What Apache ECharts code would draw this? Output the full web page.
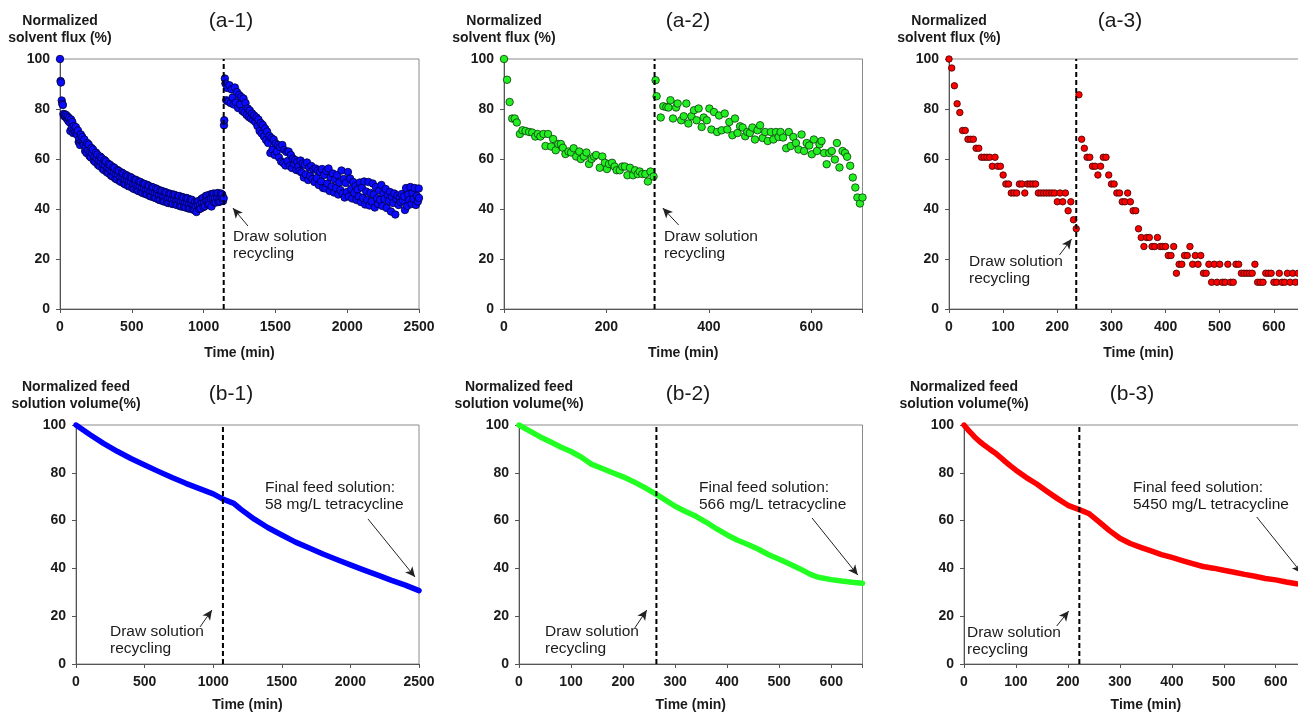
<!DOCTYPE html>
<html><head><meta charset="utf-8">
<script src="https://cdn.jsdelivr.net/npm/echarts@6/dist/echarts.min.js"></script>
<style>html,body{margin:0;padding:0;background:#fff;overflow:hidden;width:1298px;height:714px}#c{width:1340px;height:714px}</style>
</head><body><div id="c"></div>
<script>
// ---------- DATA ----------
const titles = ['(a-1)', '(a-2)', '(a-3)', '(b-1)', '(b-2)', '(b-3)'];
const yNameFlux = 'Normalized\nsolvent flux (%)';
const yNameVol = 'Normalized feed\nsolution volume(%)';
const xName = 'Time (min)';
const yTicks = [0, 20, 40, 60, 80, 100];
const xTicks1 = [0, 500, 1000, 1500, 2000, 2500];
const xTicks2 = [0, 200, 400, 600];
const xTicks3 = [0, 100, 200, 300, 400, 500, 600];
const recycleTimes = [1140, 294, 235, 1071, 264, 222];
const annoDraw = 'Draw solution\nrecycling';
const annoFinal = ['Final feed solution:\n58 mg/L tetracycline', 'Final feed solution:\n566 mg/L tetracycline', 'Final feed solution:\n5450 mg/L tetracycline'];

// (a-1) normalized solvent flux, [time, %]
const fluxA1 = [[0,100],[4,91.2],[7,90.6],[12,83.4],[16,82.1],[20,81.6],[24,78],[28,77.2],[33,77.9],[38,76.8],[43,77.6],[48,76.1],[53,77],[58,75.2],[63,76.4],[68,74.6],[72,71.2],[77,75.8],[82,72.6],[86,74.8],[91,70.4],[96,73.2],[100,71.6],
[105,70.6],[110,72.8],[115,70.4],[120,69.6],[125,71.4],[130,66.8],[135,68],[140,65.6],[145,69.8],[150,67.2],[155,68.8],[160,66.4],[165,65.8],[170,67.8],[175,63.2],[180,65.1],[185,62.4],[190,66.4],[195,63.7],[200,65.8],[205,61.2],[210,62.7],[215,60.6],[220,64.4],[225,62.2],[230,63.8],[235,59.4],[240,60.9],[245,58.8],[250,62.6],[255,60.4],[260,61.8],[265,57.6],[270,59.3],[275,57.2],[280,61],[285,58.9],[290,60.4],[295,56.2],[300,57.8],[305,55.6],[310,59.6],[315,57.5],[320,59],[325,54.8],[330,56.4],[335,54.4],[340,58],[345,56.1],[350,57.6],[355,53.4],[360,55.1],[365,53],[370,56.8],[375,54.8],[380,56.4],[385,52.2],[390,53.8],[395,51.8],[400,55.6],[405,53.7],[410,55.2],[415,51.2],[420,52.7],[425,50.8],[430,54.6],[435,52.7],[440,54.2],[445,50.2],[450,51.8],[455,49.8],[460,53.6],[465,51.7],[470,53.2],[475,49.2],[480,50.9],[485,49],[490,52.8],[495,50.8],[500,52.4],[505,48.4],[510,50],[515,48],[520,51.8],[525,50],[530,51.6],[535,47.6],[540,49.2],[545,47.2],[550,51],[555,49.2],[560,50.8],[565,46.8],[570,48.4],[575,46.4],[580,50.2],[585,48.4],[590,50],[595,46],[600,47.7],[605,45.8],[610,49.6],[615,47.7],[620,49.2],[625,45.2],[630,47],[635,45],[640,48.8],[645,47],[650,48.6],[655,44.6],[660,46.3],[665,44.4],[670,48.2],[675,46.3],[680,47.8],[685,43.8],[690,45.6],[695,43.6],[700,47.4],[705,45.7],[710,47.2],[715,43.2],[720,45],[725,43],[730,46.8],[735,45.1],[740,46.6],[745,42.6],[750,44.4],[755,42.4],[760,46.2],[765,44.5],[770,46],[775,42.2],[780,43.9],[785,42],[790,45.8],[795,44],[800,45.6],[805,41.8],[810,43.4],[815,41.6],[820,45.2],[825,43.6],[830,45.2],[835,41.2],[840,42.9],[845,41],[850,44.8],[855,43.1],[860,44.6],[865,40.8],[870,42.4],[875,40.6],[880,44.4],[885,42.6],[890,44.2],[895,40.2],[900,42],[905,40.2],[910,43.8],[915,42.1],[920,43.6],[925,39.8],[930,41.4],[935,39.6],[940,42.8],[945,41.2],[950,38.8],[955,42.8],[960,41.5],[965,43.2],[970,40],[975,41.6],[980,40.2],[985,44],[990,42.6],[995,44.4],[1000,40.8],[1005,42.6],[1010,41.2],[1015,45.2],[1020,43.5],[1025,45.4],[1030,41.8],[1035,43.5],[1040,42],[1045,45.8],[1050,44.2],[1055,41],[1060,46],[1065,44.3],[1070,46.2],[1075,42.6],[1080,44.1],[1085,42.6],[1090,46.2],[1095,44.6],[1100,46.4],[1105,42.8],[1110,44.3],[1115,43],[1120,46.2],[1125,44.7],[1130,45.8],[1135,43.2],[1140,44.3],[1142,73.5],[1144,75.5],
[1148,92.2],[1152,90.2],[1158,83.5],[1165,88.4],[1172,83],[1180,89.5],[1188,82.4],[1195,87.8],[1202,84.6],[1210,81.8],[1218,88.6],[1225,82.6],[1232,86.8],[1240,80.4],[1248,85.6],[1255,81.8],[1262,84.8],[1270,79.2],[1278,84.2],[1285,78.6],[1292,82.4],[1300,77.6],[1308,80.2],[1315,76.8],[1322,79.4],[1330,76.2],[1338,78.2],[1345,75.6],[1352,77.4],[1360,74.8],[1368,76.6],[1375,73.2],[1382,75.8],[1390,71.2],[1398,74.4],[1405,70.2],[1412,73.6],[1420,69],[1428,72.2],[1435,67.6],[1442,71],[1450,66.4],[1458,69.2],[1465,62.4],[1472,68.4],[1480,63.8],[1488,67.8],[1495,61.6],[1502,66.2],[1510,63],[1518,65.6],[1525,60.6],[1532,64.8],[1540,59],[1548,65.6],[1555,58.4],[1562,63.6],[1570,57.4],[1578,62.8],[1585,59.2],[1592,63],[1600,57.2],[1608,61.6],[1615,56.4],[1622,60.2],[1630,58],[1638,59.6],[1645,55.6],[1652,58.8],[1660,57],[1668,55.2],[1675,59.4],[1682,54.6],[1690,58.2],[1698,52.6],[1705,57.6],[1712,53.8],[1720,58.6],[1728,51.6],[1735,56.6],[1742,53.2],[1750,57.2],[1758,52],[1765,55.8],[1772,50.8],[1780,56.2],[1788,52.4],[1795,55.4],[1802,49.6],[1810,54.8],[1818,51],[1825,56],[1832,48.4],[1840,53.6],[1848,48.2],[1855,55.2],[1862,50.2],[1870,56.2],[1878,47.2],[1885,52.6],[1892,49],[1900,54.2],[1908,46.6],[1915,51.8],[1922,48.4],[1930,53.6],[1938,45.8],[1945,50.6],[1952,47.6],[1960,55.4],[1968,46.2],[1975,52],[1982,44.6],[1990,50.4],[1998,46.8],[2005,54.8],[2012,45],[2020,52.2],[2028,48],[2035,44.2],[2042,50.8],[2050,46.4],[2058,49.2],[2065,43.6],[2072,47.8],[2080,45],[2088,50.6],[2095,42.8],[2102,48.6],[2110,44.4],[2118,51],[2125,41.8],[2132,47],[2140,43.6],[2148,50.8],[2155,41.4],[2162,46.4],[2170,43],[2178,50.2],[2185,45.8],[2192,40.6],[2200,48.8],[2208,44.2],[2215,42],[2222,47.4],[2230,43.6],[2238,49.6],[2245,41.2],[2252,46.2],[2260,44],[2268,48],[2275,40.4],[2282,45.6],[2290,43.2],[2298,46.8],[2305,39],[2312,44.8],[2320,42.4],[2328,46.2],[2335,37.8],[2342,44],[2350,45.4],[2358,41.6],[2365,44.6],[2372,42.8],[2380,46],[2388,43.4],[2395,45],[2402,39.6],[2410,48.4],[2418,41.2],[2425,45.8],[2432,43.6],[2440,48.8],[2448,42],[2455,46.4],[2462,44],[2470,48.4],[2478,41.6],[2485,45.2],[2492,43],[2498,48.2],[2500,44.4]];

// (a-2) normalized solvent flux, [time, %]
const fluxA2 = [[0,100],[6,91.7],[11,82.8],[16,76.2],[21,76.2],[25,74.6],[31,70],[36,71.5],[42,71.2],[49,70.8],[55,70.6],[61,69],[66,70],[71,69],[77,70],[81,65.2],[86,70],[92,65],[96,68],[101,63.5],[106,66],[111,66],[115,64.5],[120,62],[126,63],[131,62.6],[136,64.3],[141,61],[147,63],[150,60],[156,61],[161,62.6],[166,58],[171,60],[176,61],[180,61.6],[187,56.5],[192,61],[197,58.5],[201,56],[205,58],[211,58.5],[216,57],[220,55.5],[226,55.5],[231,57],[236,57],[241,53.5],[246,56.5],[252,53.5],[256,55.5],[261,54],[265,55],[270,54],[276,54],[281,51],[286,55],[292,53],
[296,91.5],[298,85.1],[306,76.6],[311,81.1],[317,80.8],[321,80.6],[325,83.5],[330,76.2],[336,80.6],[339,82.2],[346,75.5],[351,77.1],[356,82.2],[360,74.2],[366,77.1],[371,79.5],[376,75.5],[380,80.2],[386,72.8],[390,76.6],[396,75.5],[401,80.2],[405,71.8],[410,78.8],[416,70.8],[420,77.4],[425,71.5],[431,78.2],[436,71.8],[440,74.8],[446,69.5],[451,76.2],[456,70.4],[461,73.1],[466,72.6],[471,69.1],[475,70.8],[480,70.4],[485,72.6],[490,67.8],[495,71.5],[500,73.5],[505,68.4],[510,70.8],[515,67.2],[521,70.8],[526,67.8],[531,70.8],[536,68.8],[540,70.8],[545,68.6],[551,64.3],[556,70.8],[560,65.2],[565,68.8],[570,66.4],[575,63.8],[581,69.8],[586,63.2],[591,66.4],[596,65.4],[601,61.9],[605,67.8],[611,63.2],[616,65.9],[620,67.2],[625,62.4],[630,57.9],[635,62.4],[640,63.2],[646,59.8],[650,66.4],[655,56.6],[661,63.2],[666,62.4],[670,60.9],[676,57.3],[681,52.6],[686,48.6],[690,44.6],[695,42.2],[700,44.6]];

// (a-3) normalized solvent flux, [time, %]
const fluxA3 = [[0,100],[5,96.4],[10,89.3],[15,82.1],[20,78.6],[25,71.4],[30,71.4],[35,67.9],[40,67.9],[45,67.9],[50,64.3],[55,64.3],[60,60.7],[65,60.7],[70,60.7],[75,60.7],[80,57.1],[85,60.7],[90,57.1],[95,57.1],[100,53.6],[105,50],[110,50],[115,46.4],[120,46.4],[125,46.4],[130,50],[135,50],[140,46.4],[145,50],[150,50],[155,50],[160,50],[165,46.4],[170,46.4],[175,46.4],[180,46.4],[185,46.4],[190,46.4],[195,46.4],[200,42.9],[205,46.4],[210,42.9],[215,46.4],[220,39.3],[225,42.9],[230,35.7],[235,32.1],
[240,85.7],[245,67.9],[250,64.3],[255,60.7],[260,60.7],[265,57.1],[270,57.1],[275,53.6],[280,57.1],[285,60.7],[290,60.7],[295,53.6],[300,50],[305,50],[310,46.4],[315,46.4],[320,42.9],[325,42.9],[330,46.4],[335,42.9],[340,39.3],[345,39.3],[350,32.1],[355,28.6],[360,25],[365,28.6],[370,28.6],[375,25],[380,25],[385,28.6],[390,25],[395,25],[400,25],[405,21.4],[410,21.4],[415,25],[420,14.3],[425,17.9],[430,17.9],[435,21.4],[440,21.4],[445,25],[450,17.9],[455,21.4],[460,17.9],[465,21.4],[470,14.3],[475,14.3],[480,17.9],[485,10.7],[490,17.9],[495,10.7],[500,17.9],[505,10.7],[510,10.7],[515,17.9],[520,10.7],[525,10.7],[530,17.9],[535,17.9],[540,14.3],[545,14.3],[550,14.3],[555,14.3],[560,14.3],[565,17.9],[570,10.7],[575,10.7],[580,10.7],[585,14.3],[590,14.3],[595,14.3],[600,10.7],[605,10.7],[610,14.3],[615,10.7],[620,10.7],[625,14.3],[630,10.7],[635,14.3],[640,10.7],[645,14.3],[650,10.7],[655,14.3],[660,10.7]];

// (b) normalized feed solution volume, [time, %]
const volB1 = [[0,100],[100,96],[200,92.3],[300,89],[400,86],[500,83.3],[600,80.6],[700,78],[800,75.6],[900,73.4],[1000,71.2],[1071,69],[1150,67.2],[1200,64.8],[1300,60.6],[1400,57],[1500,54],[1600,51],[1700,48.5],[1800,46],[1900,43.7],[2000,41.5],[2100,39.3],[2200,37.2],[2300,35],[2400,33],[2500,30.7]];
const volB2 = [[0,100],[20,97.5],[40,95.1],[60,93],[80,90.8],[100,88.9],[120,86.5],[140,83.5],[160,81.8],[180,80],[200,78.3],[220,76.3],[240,74],[264,71],[280,68.8],[300,66],[320,63.8],[340,61.8],[360,59.3],[380,56.5],[400,54],[420,51.8],[440,50],[460,48],[480,45.7],[500,43.8],[520,41.8],[540,39.8],[560,37.5],[575,36.3],[600,35.3],[620,34.7],[640,34.2],[660,33.8]];
const volB3 = [[0,100],[10,97.4],[20,95.1],[30,93.1],[40,91.4],[50,89.8],[60,88.3],[70,86.5],[80,84.6],[90,82.8],[100,81.1],[120,78],[140,75.3],[160,72.2],[180,69.2],[200,66.4],[222,64.6],[240,63],[260,59.5],[280,55.8],[300,52.6],[320,50.4],[340,48.8],[360,47.3],[380,45.8],[400,44.6],[420,43.3],[440,42],[460,40.8],[480,40.1],[500,39.2],[520,38.4],[540,37.5],[560,36.7],[580,35.8],[600,35.2],[620,34.3],[640,33.6],[660,33]];

// ---------- CHART ----------
const FONT = '"Liberation Sans", Arial, sans-serif';
const TXT = '#1a1a1a';
const grids = [
  {left: 60, top: 59, width: 359, height: 250},
  {left: 504, top: 59, width: 358.5, height: 250},
  {left: 949, top: 59, width: 379, height: 250},
  {left: 76, top: 425, width: 343, height: 239},
  {left: 519, top: 425, width: 343.5, height: 239},
  {left: 964, top: 425, width: 363.7, height: 239}
].map(g => Object.assign(g, {show: true, borderColor: '#8a8a8a', borderWidth: 1, backgroundColor: 'transparent'}));

const xSpec = [
  {max: 2500, interval: 500, ticks: xTicks1},
  {max: 700, interval: 200, ticks: xTicks2},
  {max: 700, interval: 100, ticks: xTicks3},
  {max: 2500, interval: 500, ticks: xTicks1},
  {max: 660, interval: 100, ticks: xTicks3},
  {max: 700, interval: 100, ticks: xTicks3}
];
const axisLine = {show: true, lineStyle: {color: '#555', width: 1}};
const axisTick = {show: true, inside: false, length: 4, lineStyle: {color: '#555'}};
const labelStyle = {color: TXT, fontFamily: FONT, fontWeight: 'bold', fontSize: 14};

const xAxis = xSpec.map((s, i) => ({
  type: 'value', gridIndex: i, min: 0, max: s.max, interval: s.interval,
  name: xName, nameLocation: 'middle', nameGap: i < 3 ? 37 : 34,
  nameTextStyle: {color: TXT, fontFamily: FONT, fontWeight: 'bold', fontSize: 14},
  axisLine, axisTick, splitLine: {show: false},
  axisLabel: Object.assign({margin: 11, formatter: v => s.ticks.includes(v) ? String(v) : ''}, labelStyle)
}));
const yAxis = grids.map((g, i) => ({
  type: 'value', gridIndex: i, min: 0, max: 100, interval: 20,
  name: i < 3 ? yNameFlux : yNameVol, nameLocation: 'end', nameGap: 12,
  nameTextStyle: {color: TXT, fontFamily: FONT, fontWeight: 'bold', fontSize: 14, lineHeight: 17, align: 'center'},
  axisLine, axisTick, splitLine: {show: false},
  axisLabel: Object.assign({margin: 10, formatter: v => yTicks.includes(v) ? String(v) : ''}, labelStyle)
}));

function arrow(from, to) {
  return {
    silent: true, animation: false, symbol: ['none', 'arrow'], symbolSize: [7, 10],
    label: {show: false}, emphasis: {disabled: true},
    lineStyle: {color: '#222', width: 1, type: 'solid'},
    data: [[{coord: from}, {coord: to}]]
  };
}
function scatter(i, data, color, border, size, ml) {
  return {type: 'scatter', xAxisIndex: i, yAxisIndex: i, data, symbolSize: size, z: 2,
    itemStyle: {color, borderColor: border, borderWidth: 0.8, opacity: 1}, markLine: ml, animation: false};
}
function vol(i, data, color, ml1, ml2) {
  return [{type: 'line', xAxisIndex: i, yAxisIndex: i, data, showSymbol: false, symbol: 'none', z: 2,
    lineStyle: {color, width: 5.5, cap: 'round', join: 'round'}, markLine: ml1, animation: false},
    {type: 'line', xAxisIndex: i, yAxisIndex: i, data: [], markLine: ml2, animation: false}];
}
const dashed = recycleTimes.map((t, i) => ({
  type: 'line', xAxisIndex: i, yAxisIndex: i, data: [[t, 0], [t, 100]], symbol: 'none', z: 5,
  lineStyle: {color: '#000', width: 2, type: [5, 3]}, animation: false
}));

const series = [
  scatter(0, fluxA1, '#0a0aff', '#00003a', 7.5, arrow([1309, 33.2], [1204, 40.4])),
  scatter(1, fluxA2, '#22ee22', '#0a3a0a', 7.5, arrow([341, 33.6], [310, 40.4])),
  scatter(2, fluxA3, '#ff0000', '#3a0000', 6.5, arrow([204, 21.6], [226.5, 28])),
  ...vol(3, volB1, '#0000ff', arrow([2128, 60.7], [2471, 36.4]), arrow([904, 15.5], [991, 22.6])),
  ...vol(4, volB2, '#22ff22', arrow([563, 61.1], [651, 37.2]), arrow([222.5, 15.1], [245.6, 22.6])),
  ...vol(5, volB3, '#ff0000', arrow([563.4, 61.5], [650, 38]), arrow([178.5, 15.9], [201.6, 22.2])),
  ...dashed
];

const titlePos = [[231, 11], [688, 11], [1120, 11], [231, 384], [688, 384], [1132, 384]];
const drawPos = [[233, 228], [664, 228], [969, 253], [110, 623], [545, 623], [967, 624]];
const finalPos = [[265, 479], [699, 479], [1133, 479]];
const graphic = [];
titles.forEach((t, i) => graphic.push({type: 'text', x: titlePos[i][0], y: titlePos[i][1], silent: true,
  style: {text: t, font: '21px ' + FONT, fill: TXT, align: 'center', verticalAlign: 'top'}}));
drawPos.forEach(p => graphic.push({type: 'text', x: p[0], y: p[1], silent: true,
  style: {text: annoDraw, font: '15.5px ' + FONT, lineHeight: 17, fill: TXT, align: 'left', verticalAlign: 'top'}}));
finalPos.forEach((p, i) => graphic.push({type: 'text', x: p[0], y: p[1], silent: true,
  style: {text: annoFinal[i], font: '15.5px ' + FONT, lineHeight: 17, fill: TXT, align: 'left', verticalAlign: 'top'}}));

const chart = echarts.init(document.getElementById('c'), null, {renderer: 'canvas'});
chart.setOption({backgroundColor: '#fff', animation: false, grid: grids, xAxis, yAxis, series, graphic});
</script></body></html>
